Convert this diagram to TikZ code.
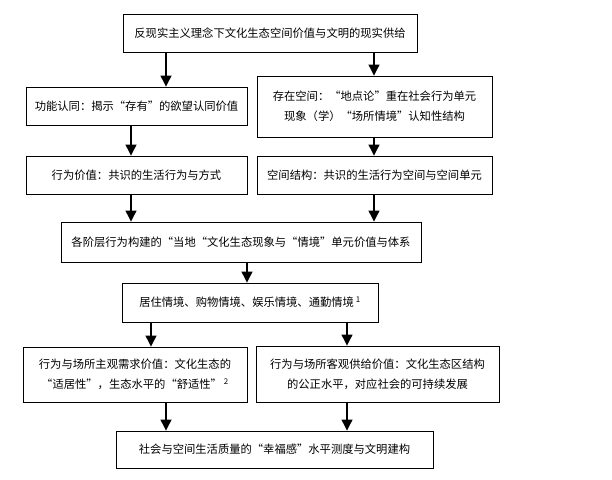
\documentclass[tikz,border=0pt]{standalone}
\usepackage{fontspec}
\setmainfont{Noto Sans CJK SC}
\usetikzlibrary{arrows.meta}
\begin{document}
\begin{tikzpicture}[x=1bp,y=-1bp,
  box/.style={draw=black,line width=0.9bp,align=center,inner sep=0pt,
    font=\fontsize{11.3bp}{20bp}\selectfont},
  arr/.style={line width=1.2bp,-{Triangle[width=11bp,length=11bp]}}]
\useasboundingbox (0,0) rectangle (612,480);
\node[box,minimum width=294bp,minimum height=38bp] (b1) at (270,33) {反现实主义理念下文化生态空间价值与文明的现实供给};
\node[box,minimum width=221bp,minimum height=38bp] (b2l) at (136.5,106) {功能认同：揭示“存有”的欲望认同价值};
\node[box,minimum width=235bp,minimum height=61bp] (b2r) at (374.5,106.5) {存在空间：“地点论”重在社会行为单元\\现象（学）“场所情境”认知性结构};
\node[box,minimum width=221bp,minimum height=38bp] (b3l) at (136.5,175) {行为价值：共识的生活行为与方式};
\node[box,minimum width=235bp,minimum height=38bp] (b3r) at (374.5,175) {空间结构：共识的生活行为空间与空间单元};
\node[box,minimum width=360bp,minimum height=40bp] (b4) at (241,242) {各阶层行为构建的“当地“文化生态现象与“情境”单元价值与体系};
\node[box,minimum width=256bp,minimum height=39bp] (b5) at (250,302.5) {居住情境、购物情境、娱乐情境、通勤情境\,\textsuperscript{1}};
\node[box,minimum width=224bp,minimum height=55bp] (b6l) at (135,374.5) {行为与场所主观需求价值：文化生态的\\“适居性”，生态水平的“舒适性”\,\textsuperscript{2}};
\node[box,minimum width=243bp,minimum height=56bp] (b6r) at (377.5,374) {行为与场所客观供给价值：文化生态区结构\\的公正水平，对应社会的可持续发展};
\node[box,minimum width=317bp,minimum height=37bp] (b7) at (274.5,449.5) {社会与空间生活质量的“幸福感”水平测度与文明建构};
\coordinate (cA) at (166,0);
\coordinate (cB) at (374,0);
\coordinate (cC) at (131,0);
\coordinate (cD) at (247,0);
\coordinate (cE) at (151,0);
\coordinate (cF) at (347,0);
\draw[arr] (b1.south -| cA) -- (b2l.north -| cA);
\draw[arr] (b1.south -| cB) -- (b2r.north -| cB);
\draw[arr] (b2l.south -| cC) -- (b3l.north -| cC);
\draw[arr] (b2r.south -| cB) -- (b3r.north -| cB);
\draw[arr] (b3l.south -| cC) -- (b4.north -| cC);
\draw[arr] (b3r.south -| cB) -- (b4.north -| cB);
\draw[arr] (b4.south -| cD) -- (b5.north -| cD);
\draw[arr] (b5.south -| cE) -- (b6l.north -| cE);
\draw[arr] (b5.south -| cF) -- (b6r.north -| cF);
\draw[arr] (b6l.south -| cA) -- (b7.north -| cA);
\draw[arr] (b6r.south -| cF) -- (b7.north -| cF);
\end{tikzpicture}
\end{document}
